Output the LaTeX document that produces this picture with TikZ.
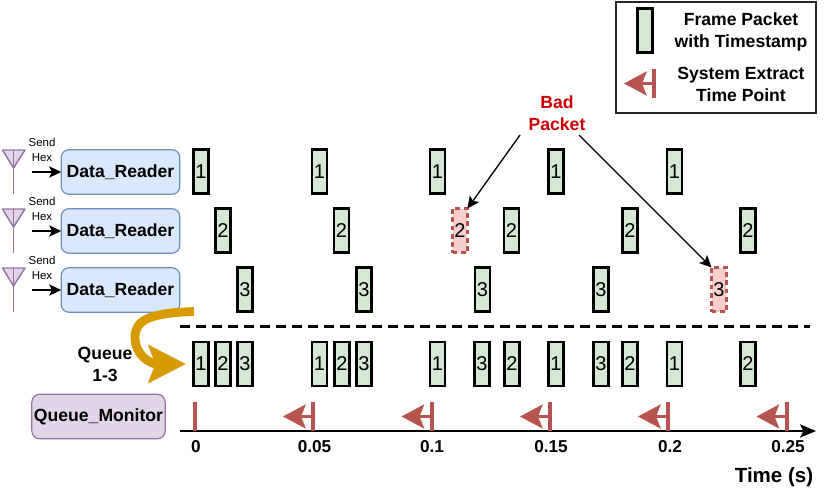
\documentclass[tikz,border=0pt]{standalone}
\usepackage{fontspec}
\setmainfont{Liberation Sans}
\usetikzlibrary{arrows.meta}
\definecolor{pktgreen}{HTML}{D5E8D4}
\definecolor{badred}{HTML}{F8CECC}
\definecolor{markred}{HTML}{B85450}
\definecolor{readerfill}{HTML}{DAE8FC}
\definecolor{readerline}{HTML}{6C8EBF}
\definecolor{monfill}{HTML}{E1D5E7}
\definecolor{monline}{HTML}{9673A6}
\definecolor{queuegold}{HTML}{D79B00}
\definecolor{badtext}{HTML}{CC0000}
\tikzset{
  packet/.style={draw=black,fill=pktgreen,line width=1.8pt,minimum width=11.2pt,minimum height=33pt,
    inner sep=0pt,outer sep=0pt,font=\fontsize{15}{17}\selectfont},
  badpacket/.style={packet,draw=markred,fill=badred,dash pattern=on 3.6pt off 2.6pt,line width=1.8pt},
  module/.style={rounded corners=6pt,line width=0.9pt,inner sep=0pt,outer sep=0pt,
    minimum height=33.5pt,font=\bfseries\fontsize{13.2}{16}\selectfont},
  reader/.style={module,draw=readerline,fill=readerfill,minimum width=89pt},
  monitor/.style={module,draw=monline,fill=monfill,minimum width=100pt},
  captiontext/.style={inner sep=0pt,outer sep=0pt,align=center,font=\bfseries\fontsize{13.2}{16.5}\selectfont},
  smalltext/.style={inner sep=0pt,outer sep=0pt,align=center,font=\fontsize{8.6}{11}\selectfont},
  ticktext/.style={inner sep=0pt,outer sep=0pt,font=\bfseries\fontsize{12.9}{15}\selectfont},
  timemark/.style={fill=markred,inner sep=0pt,outer sep=0pt,minimum width=3pt,minimum height=21.8pt},
  extract/.style={draw=markred,line width=2.2pt,-{Stealth[length=17pt,width=18pt,inset=3.5pt,fill=markred]}},
  pointer/.style={draw=black,line width=1pt,-{Stealth[length=9pt,width=8.5pt,inset=2pt]}},
  antenna/.style={draw=monline,fill=monfill,line width=1.1pt,line join=round},
}
\begin{document}
\begin{tikzpicture}[x=0.75pt,y=-0.75pt]
\useasboundingbox (0,0) rectangle (830,495);

% Legend
\node[draw=black!85,line width=1.1pt,minimum width=150pt,minimum height=83pt,inner sep=0pt,outer sep=0pt] (legend) at (716,57.5) {};
\node[packet] (legendpkt) at (645,30.5) {};
\node[captiontext] (legendpkttext) at (741,32) {Frame Packet\\with Timestamp};
\node[timemark] (legendmark) at (654,83.5) {};
\coordinate (legendtip) at (624,83.5);
\draw[extract] (legendmark.center) -- (legendtip);
\node[captiontext] (legendmarktext) at (741,84) {System Extract\\Time Point};

% Receivers: antenna, hex input and reader per row
\foreach \r/\yy in {1/172,2/231,3/290}{
  \draw[antenna] (2.5,\yy-22) -- (25,\yy-22) -- (13.5,\yy-4) -- cycle;
  \draw[antenna] (13.5,\yy-22) -- (13.5,\yy+22);
  \node[reader] (reader\r) at (120.5,\yy) {Data\_Reader};
  \coordinate (hex\r) at (32,\yy);
  \draw[pointer] (hex\r) -- (reader\r.west);
  \node[smalltext] (send\r) at (42,\yy-22) {Send\\Hex};
}

% Per-reader packet streams
\foreach \x [count=\i] in {201,319.5,437.5,556,674.5}
  \node[packet] (a\i) at (\x,171.5) {1};
\foreach \x [count=\i] in {223,341.5,511.5,630,748}
  \node[packet] (b\i) at (\x,230.5) {2};
\foreach \x [count=\i] in {245,364,482.5,601}
  \node[packet] (c\i) at (\x,289.5) {3};
\node[badpacket] (badb) at (460,230.5) {2};
\node[badpacket] (badc) at (719,289.5) {3};

% Bad packet callout
\node[captiontext,text=badtext] (bad) at (557,113) {Bad\\Packet};
\coordinate (badleft) at (520,135);
\coordinate (badright) at (579,135);
\draw[pointer] (badleft) -- (badb.north east);
\draw[pointer] (badright) -- (badc.north west);

% Separator between streams and queue
\coordinate (sepl) at (180,326.5);
\coordinate (sepr) at (810,326.5);
\draw[line width=2.2pt,dash pattern=on 7.5pt off 4.5pt] (sepl) -- (sepr);

% Merged queue
\foreach \x/\n [count=\i] in {201/1,223/2,245/3,319.5/1,342/2,364/3,437.5/1,482/3,512/2,556/1,601/3,630/2,674.5/1,748/2}
  \node[packet] (q\i) at (\x,364) {\n};
\node[captiontext] (queue) at (105,364) {Queue\\1-3};
\coordinate (qstart) at (194,311.5);
\coordinate (qend) at (186,364);
\draw[draw=queuegold,line width=6.6pt,-{Stealth[length=28pt,width=28pt,inset=5pt,fill=queuegold]}]
  (qstart) .. controls (150,313) and (135,320) .. (135,337) .. controls (135,355) and (150,364) .. (qend);

% Monitor and time axis
\node[monitor] (mon) at (98.5,416.5) {Queue\_Monitor};
\coordinate (axl) at (180,431);
\coordinate (axr) at (816,431);
\draw[line width=1pt,-{Stealth[length=12pt,width=10pt,inset=2.5pt]}] (axl) -- (axr);
\node[timemark] (m0) at (194.5,416.5) {};
\foreach \x [count=\i] in {313,431.5,550,668,786.5}{
  \node[timemark] (m\i) at (\x,416.5) {};
  \coordinate (tip\i) at (\x-30,416.5);
  \draw[extract] (m\i.center) -- (tip\i);
}
\foreach \x/\t [count=\i] in {196/0,314.5/0.05,432/0.1,551/0.15,670/0.2,788/0.25}
  \node[ticktext] (t\i) at (\x,446.5) {\t};
\node[inner sep=0pt,outer sep=0pt,font=\bfseries\fontsize{15.4}{18}\selectfont] (timelabel) at (774,477) {Time (s)};
\end{tikzpicture}
\end{document}
